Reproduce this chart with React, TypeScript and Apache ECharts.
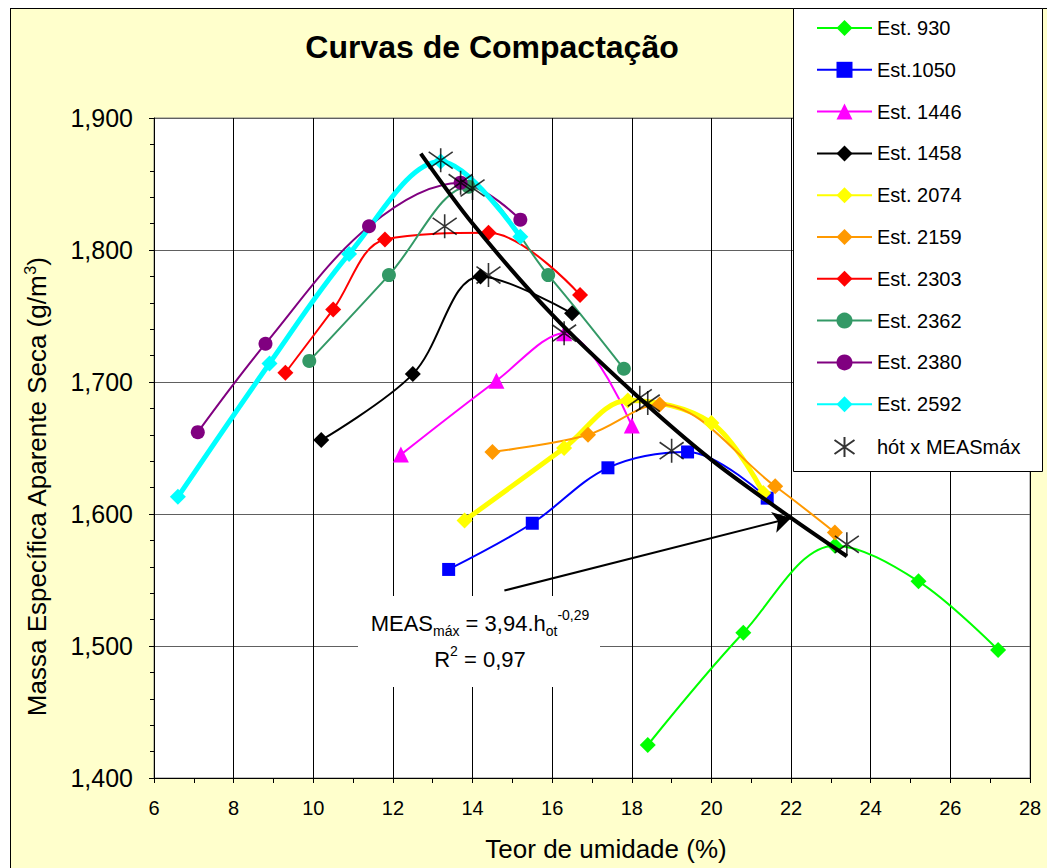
import React, { useEffect, useRef } from "react";
import * as echarts from "echarts";

const FONT = "'Liberation Sans', Arial, sans-serif";

// Series data: [teor de umidade (%), massa específica]
const est930 = [[18.4, 1.425], [20.8, 1.51], [23.1, 1.576], [25.2, 1.549], [27.2, 1.497]];
const est1050 = [[13.4, 1.558], [15.5, 1.593], [17.4, 1.635], [19.4, 1.647], [21.4, 1.612]];
const est1446 = [[12.2, 1.645], [14.6, 1.701], [16.3, 1.737], [18.0, 1.667]];
const est1458 = [[10.2, 1.656], [12.5, 1.706], [14.2, 1.78], [16.5, 1.752]];
const est2074 = [[13.8, 1.595], [16.3, 1.65], [17.9, 1.686], [20.0, 1.669], [21.3, 1.616]];
const est2159 = [[14.5, 1.647], [16.9, 1.66], [18.7, 1.683], [21.6, 1.621], [23.1, 1.586]];
const est2303 = [[9.3, 1.707], [10.5, 1.755], [11.8, 1.808], [14.4, 1.813], [16.7, 1.766]];
const est2362 = [[9.9, 1.716], [11.9, 1.781], [13.9, 1.848], [15.9, 1.781], [17.8, 1.71]];
const est2380 = [[7.1, 1.662], [8.8, 1.729], [11.4, 1.818], [13.7, 1.851], [15.2, 1.823]];
const est2592 = [[6.6, 1.613], [8.9, 1.714], [10.9, 1.797], [13.2, 1.867], [15.2, 1.81]];
const otimos = [
  [13.2, 1.868], [13.7, 1.851], [14.0, 1.847], [13.3, 1.818], [14.4, 1.781],
  [16.3, 1.737], [18.2, 1.688], [18.4, 1.684], [19.0, 1.648], [23.4, 1.577],
];
const trend = [[12.7, 1.873], [14.0, 1.82], [16.0, 1.751], [18.0, 1.693], [20.0, 1.641], [22.0, 1.597], [23.4, 1.568]];
const arrowFrom = [14.8, 1.542];
const arrowTo = [22.0, 1.597];

const xTicks = { min: 6, max: 28, interval: 2 };
const yTicks = { min: 1.4, max: 1.9, interval: 0.1 };

const legendNames = [
  "Est. 930", "Est.1050", "Est. 1446", "Est. 1458", "Est. 2074",
  "Est. 2159", "Est. 2303", "Est. 2362", "Est. 2380", "Est. 2592", "hót x MEASmáx",
];

const STAR = "path://M10,0L10,20M0,3L20,17M20,3L0,17";

function line(name: string, data: number[][], color: string, symbol: string, size: number, width: number) {
  return {
    name,
    type: "line",
    data,
    smooth: 0.35,
    symbol,
    symbolSize: size,
    showSymbol: true,
    lineStyle: { color, width },
    itemStyle: { color },
    z: 2,
  };
}

export default function App() {
  const ref = useRef<HTMLDivElement>(null);
  useEffect(() => {
    if (!ref.current) return;
    const chart = echarts.init(ref.current, undefined, { renderer: "svg" });
    const option: any = {
      animation: false,
      backgroundColor: "transparent",
      textStyle: { fontFamily: FONT },
      grid: {
        left: 154, top: 118, width: 876, height: 660,
        show: true, backgroundColor: "#ffffff", borderColor: "#808080", borderWidth: 1,
      },
      xAxis: {
        type: "value",
        min: xTicks.min, max: xTicks.max, interval: xTicks.interval,
        axisLine: { lineStyle: { color: "#000", width: 1 } },
        axisTick: { length: 5, lineStyle: { color: "#000" } },
        minorTick: { show: true, splitNumber: 2, length: 5, lineStyle: { color: "#000" } },
        splitLine: { show: true, lineStyle: { color: "#000", width: 1 } },
        axisLabel: { color: "#000", fontSize: 20, margin: 20, fontFamily: FONT },
      },
      yAxis: {
        type: "value",
        min: yTicks.min, max: yTicks.max, interval: yTicks.interval,
        axisLine: { show: true, lineStyle: { color: "#000", width: 1 } },
        axisTick: { show: true, length: 5, lineStyle: { color: "#000" } },
        minorTick: { show: true, splitNumber: 5, length: 4, lineStyle: { color: "#000" } },
        splitLine: { show: true, lineStyle: { color: "#606060", width: 1 } },
        axisLabel: {
          color: "#000", fontSize: 25, margin: 21, fontFamily: FONT,
          formatter: (v: number) => v.toFixed(3).replace(".", ","),
        },
      },
      legend: {
        data: legendNames,
        orient: "vertical",
        left: 816, top: 18,
        padding: 0,
        itemWidth: 55, itemHeight: 20, itemGap: 21.8,
        textStyle: { color: "#000", fontSize: 20, lineHeight: 20, fontFamily: FONT },
        z: 6,
      },
      graphic: [
        {
          type: "rect", z: 5,
          shape: { x: 793.5, y: 8.5, width: 249, height: 463 },
          style: { fill: "#ffffff", stroke: "#000", lineWidth: 1 },
        },
        {
          type: "text", x: 492, y: 47, z: 10,
          style: {
            text: "Curvas de Compactação", fill: "#000",
            font: `bold 32px ${FONT}`, align: "center", verticalAlign: "middle",
          },
        },
        {
          type: "text", x: 606, y: 849, z: 10,
          style: {
            text: "Teor de umidade (%)", fill: "#000",
            font: `26px ${FONT}`, align: "center", verticalAlign: "middle",
          },
        },
        {
          type: "text", x: 37, y: 487, rotation: Math.PI / 2, z: 10,
          style: {
            text: "{a|Massa Específica Aparente Seca (g/m}{s|3}{a|)}",
            align: "center", verticalAlign: "middle",
            rich: {
              a: { fontSize: 26, fontFamily: FONT, fill: "#000", lineHeight: 30 },
              s: { fontSize: 16, fontFamily: FONT, fill: "#000", lineHeight: 16, verticalAlign: "top" },
            },
          },
        },
        {
          type: "rect", z: 3,
          shape: { x: 358, y: 596, width: 242, height: 91 },
          style: { fill: "#ffffff" },
        },
        {
          type: "text", x: 480, y: 623, z: 10,
          style: {
            text: "{n|MEAS}{b|máx}{n| = 3,94.h}{b|ot}{t|-0,29}",
            align: "center", verticalAlign: "middle",
            rich: {
              n: { fontSize: 22, fontFamily: FONT, fill: "#000", lineHeight: 30 },
              b: { fontSize: 14, fontFamily: FONT, fill: "#000", lineHeight: 14, verticalAlign: "bottom" },
              t: { fontSize: 14, fontFamily: FONT, fill: "#000", lineHeight: 14, verticalAlign: "top" },
            },
          },
        },
        {
          type: "text", x: 480, y: 659, z: 10,
          style: {
            text: "{n|R}{t|2}{n| = 0,97}",
            align: "center", verticalAlign: "middle",
            rich: {
              n: { fontSize: 22, fontFamily: FONT, fill: "#000", lineHeight: 30 },
              t: { fontSize: 14, fontFamily: FONT, fill: "#000", lineHeight: 14, verticalAlign: "top" },
            },
          },
        },
      ],
      series: [
        line("Est. 930", est930, "#00ff00", "diamond", 16, 2),
        line("Est.1050", est1050, "#0000ff", "rect", 13, 2),
        line("Est. 1446", est1446, "#ff00ff", "triangle", 16, 2),
        line("Est. 1458", est1458, "#000000", "diamond", 16, 2),
        line("Est. 2074", est2074, "#ffff00", "diamond", 16, 5),
        line("Est. 2159", est2159, "#ff9900", "diamond", 16, 2),
        line("Est. 2303", est2303, "#ff0000", "diamond", 16, 2),
        line("Est. 2362", est2362, "#339966", "circle", 14, 2),
        line("Est. 2380", est2380, "#800080", "circle", 14, 2),
        line("Est. 2592", est2592, "#00ffff", "diamond", 16, 5),
        {
          name: "trend",
          type: "line",
          data: trend,
          smooth: 0.3,
          showSymbol: false,
          symbol: "none",
          lineStyle: { color: "#000", width: 4 },
          z: 3,
          markLine: {
            silent: true,
            symbol: ["none", "arrow"],
            symbolSize: [16, 18],
            label: { show: false },
            lineStyle: { color: "#000", width: 2, type: "solid" },
            data: [[{ coord: arrowFrom }, { coord: arrowTo }]],
          },
        },
        {
          name: "hót x MEASmáx",
          type: "scatter",
          data: otimos,
          symbol: STAR,
          symbolSize: [24, 24],
          itemStyle: { color: "#000", borderColor: "#000", borderWidth: 1.6 },
          z: 4,
        },
      ],
    };
    chart.setOption(option);
    return () => chart.dispose();
  }, []);

  return (
    <div style={{ position: "fixed", left: 0, top: 0, width: 1047, height: 868, background: "#ffffff" }}>
      <div
        style={{
          position: "absolute", left: 10, top: 8, width: 1037, height: 860,
          background: "#FFFFCC", borderLeft: "1.5px solid #000", borderTop: "1.5px solid #000",
          boxSizing: "border-box",
        }}
      />
      <div ref={ref} style={{ position: "absolute", left: 0, top: 0, width: 1047, height: 868 }} />
    </div>
  );
}
